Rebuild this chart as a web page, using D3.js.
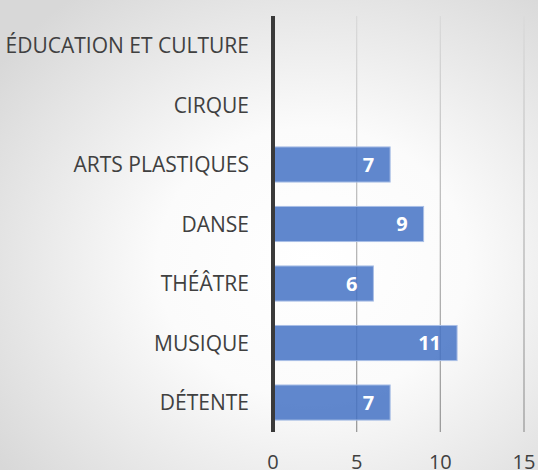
<!DOCTYPE html>
<html>
<head>
<meta charset="utf-8">
<script src="https://cdn.jsdelivr.net/npm/d3@7"></script>
<style>
  html, body { margin: 0; padding: 0; overflow: hidden; }
  svg { display: block; }
</style>
</head>
<body>
<div id="chart"></div>
<script>
// categories top to bottom, values (null = no bar)
var categories = ['ÉDUCATION ET CULTURE', 'CIRQUE', 'ARTS PLASTIQUES', 'DANSE', 'THÉÂTRE', 'MUSIQUE', 'DÉTENTE'];
var values = [null, null, 7, 9, 6, 11, 7];
var xTicks = [0, 5, 10, 15];

var W = 538, H = 470;
var m = {top: 16, right: 14, bottom: 38, left: 273};

var svg = d3.select('#chart').append('svg').attr('width', W).attr('height', H);
var defs = svg.append('defs');

var bg = defs.append('radialGradient').attr('id', 'bg')
  .attr('cx', '0.58').attr('cy', '0.56').attr('r', '0.72');
bg.append('stop').attr('offset', '0').attr('stop-color', '#ffffff');
bg.append('stop').attr('offset', '0.4').attr('stop-color', '#fbfbfb');
bg.append('stop').attr('offset', '1').attr('stop-color', '#d8d8d8');
svg.append('rect').attr('width', W).attr('height', H).attr('fill', 'url(#bg)');

var gl = defs.append('linearGradient').attr('id', 'grid')
  .attr('gradientUnits', 'userSpaceOnUse')
  .attr('x1', 0).attr('y1', m.top).attr('x2', 0).attr('y2', H - m.bottom);
gl.append('stop').attr('offset', '0').attr('stop-color', '#dadada');
gl.append('stop').attr('offset', '1').attr('stop-color', '#9a9a9a');

var x = d3.scaleLinear().domain([0, 15]).range([m.left, 524]);
var y = d3.scaleBand().domain(categories).range([m.top, H - m.bottom]).paddingInner(0.41).paddingOuter(0.2);

// gridlines
svg.append('g').selectAll('line')
  .data(xTicks.filter(d => d > 0))
  .enter().append('line')
    .attr('x1', d => x(d)).attr('x2', d => x(d))
    .attr('y1', m.top).attr('y2', H - m.bottom)
    .attr('stroke', 'url(#grid)').attr('stroke-width', 1.3);

var data = categories.map((c, i) => ({cat: c, v: values[i]})).filter(d => d.v != null);

// bars
svg.append('g').selectAll('rect')
  .data(data)
  .enter().append('rect')
    .attr('x', x(0))
    .attr('y', d => y(d.cat))
    .attr('width', d => x(d.v) - x(0))
    .attr('height', y.bandwidth())
    .attr('fill', '#4472c4').attr('fill-opacity', 0.85)
    .attr('stroke', '#a9bfe6').attr('stroke-width', 1);

// value labels
svg.append('g').selectAll('text')
  .data(data)
  .enter().append('text')
    .attr('x', d => x(d.v) - 16)
    .attr('y', d => y(d.cat) + y.bandwidth() / 2)
    .attr('dy', '0.36em')
    .attr('text-anchor', 'end')
    .attr('fill', '#fff')
    .style('font', 'bold 20px "Open Sans", sans-serif')
    .text(d => d.v);

// category labels
svg.append('g').selectAll('text')
  .data(categories)
  .enter().append('text')
    .attr('x', 249)
    .attr('y', d => y(d) + y.bandwidth() / 2)
    .attr('dy', '0.36em')
    .attr('text-anchor', 'end')
    .attr('fill', '#404040')
    .style('font', '21px "Open Sans", sans-serif')
    .text(d => d);

// x tick labels
svg.append('g').selectAll('text')
  .data(xTicks)
  .enter().append('text')
    .attr('x', d => x(d))
    .attr('y', 469)
    .attr('text-anchor', 'middle')
    .attr('fill', '#404040')
    .style('font', '20px "Open Sans", sans-serif')
    .text(d => d);

// value axis line
svg.append('line')
  .attr('x1', x(0)).attr('x2', x(0))
  .attr('y1', m.top).attr('y2', H - m.bottom)
  .attr('stroke', '#3a3a3a').attr('stroke-width', 4);
</script>
</body>
</html>
